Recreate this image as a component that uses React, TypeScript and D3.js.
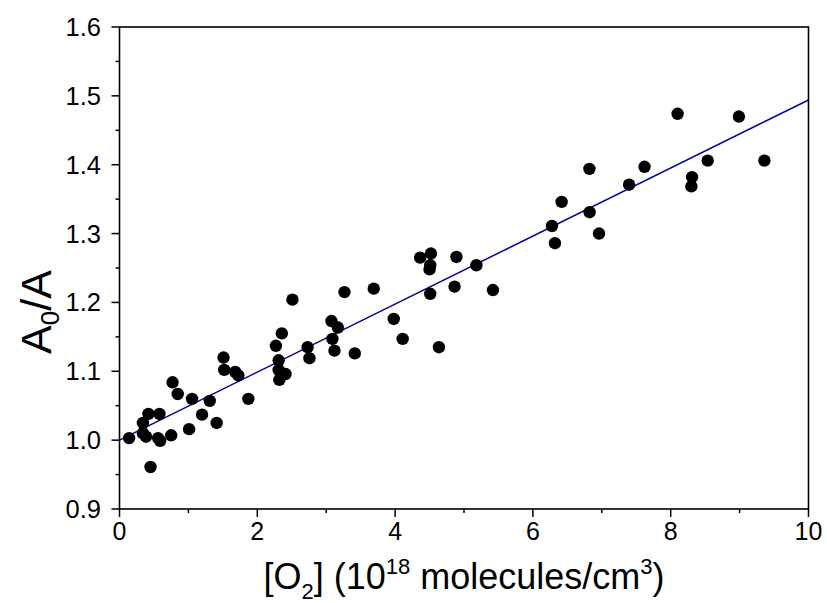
import React from "react";
import * as d3 from "d3";

const xValues = [0.14,0.45,0.34,0.42,0.34,0.385,0.58,0.56,0.59,0.75,0.77,0.845,1.01,1.053,1.198,1.31,1.41,1.51,1.52,1.68,1.725,1.87,2.27,2.31,2.31,2.32,2.41,2.51,2.356,2.73,2.757,3.265,3.076,3.17,3.09,3.12,3.415,3.69,3.98,4.11,4.636,4.51,4.364,4.52,4.51,4.5,4.89,4.863,5.18,5.42,6.82,6.417,6.277,6.32,6.823,6.96,7.396,7.62,8.1,8.99,8.537,9.36,8.31,8.3];
const yValues = [1.003,0.961,1.025,1.038,1.01,1.005,1.038,1.003,0.999,1.007,1.084,1.067,1.016,1.06,1.037,1.057,1.025,1.12,1.102,1.099,1.094,1.06,1.137,1.116,1.102,1.0875,1.096,1.204,1.155,1.135,1.119,1.215,1.173,1.1635,1.147,1.13,1.126,1.22,1.176,1.147,1.135,1.2125,1.265,1.271,1.254,1.248,1.266,1.223,1.254,1.218,1.394,1.346,1.311,1.286,1.331,1.3,1.371,1.397,1.474,1.47,1.406,1.406,1.382,1.3685];
const fitIntercept = 1.0;
const fitSlope = 0.0494;
const xTicks = [0, 2, 4, 6, 8, 10];
const xMinorTicks = [1, 3, 5, 7, 9];
const yTicks = [0.9, 1.0, 1.1, 1.2, 1.3, 1.4, 1.5, 1.6];
const yMinorTicks = [0.95, 1.05, 1.15, 1.25, 1.35, 1.45, 1.55];

const W = 827, H = 603;
const L = 119.5, R = 808.5, T = 27, B = 509;

export default function App() {
  const x = d3.scaleLinear().domain([0, 10]).range([L, R]);
  const y = d3.scaleLinear().domain([0.9, 1.6]).range([B, T]);
  const line = d3.line<number>().x(d => x(d)).y(d => y(fitIntercept + fitSlope * d));
  const font = "'Liberation Sans', Arial, sans-serif";
  return (
    <svg width={W} height={H} style={{ position: "absolute", left: 0, top: 0, background: "#fff" }} fontFamily={font}>
      <rect x={0} y={0} width={W} height={H} fill="#fff" />
      <path d={line([0, 10]) || ""} stroke="#0000a0" strokeWidth={1.5} fill="none" />
      {xValues.map((xv, i) => (
        <circle key={i} cx={x(xv)} cy={y(yValues[i])} r={6.2} fill="#000" />
      ))}
      <rect x={L} y={T} width={R - L} height={B - T} fill="none" stroke="#000" strokeWidth={1.6} />
      {xTicks.map(t => (
        <g key={"x" + t}>
          <line x1={x(t)} x2={x(t)} y1={B} y2={B + 8} stroke="#000" strokeWidth={1.5} />
          <text x={x(t)} y={540} textAnchor="middle" fontSize={25}>{t}</text>
        </g>
      ))}
      {xMinorTicks.map(t => (
        <line key={"xm" + t} x1={x(t)} x2={x(t)} y1={B} y2={B + 4} stroke="#000" strokeWidth={1.5} />
      ))}
      {yTicks.map(t => (
        <g key={"y" + t}>
          <line x1={L - 8} x2={L} y1={y(t)} y2={y(t)} stroke="#000" strokeWidth={1.5} />
          <text x={101} y={y(t) + 9} textAnchor="end" fontSize={25.5}>{t.toFixed(1)}</text>
        </g>
      ))}
      {yMinorTicks.map(t => (
        <line key={"ym" + t} x1={L - 4} x2={L} y1={y(t)} y2={y(t)} stroke="#000" strokeWidth={1.5} />
      ))}
      <text x={(L + R) / 2} y={589} textAnchor="middle" fontSize={36}>
        [O<tspan fontSize={22} dy={10}>2</tspan><tspan dy={-10}>] (10</tspan>
        <tspan fontSize={22} dy={-15}>18</tspan><tspan dy={15}> molecules/cm</tspan>
        <tspan fontSize={22} dy={-15}>3</tspan><tspan dy={15}>)</tspan>
      </text>
      <text transform={`translate(51, 312) rotate(-90)`} textAnchor="middle" fontSize={43}>
        A<tspan fontSize={26} dy={8}>0</tspan><tspan dy={-8}>/A</tspan>
      </text>
    </svg>
  );
}
